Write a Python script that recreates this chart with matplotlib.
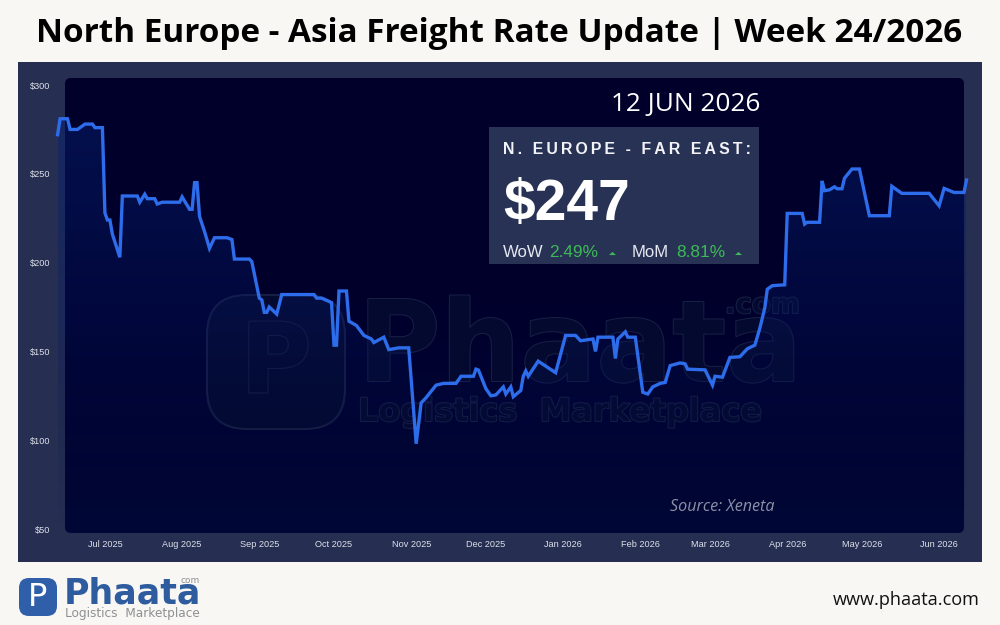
import matplotlib
matplotlib.use('Agg')
import matplotlib.pyplot as plt
import matplotlib.patheffects as pe
from matplotlib.colors import LinearSegmentedColormap
from matplotlib.patches import FancyBboxPatch, Rectangle
import numpy as np
import pandas as pd

start_date = '2025-06-12'
end_date = '2026-06-12'

# days since start_date
day_offsets = [0, 1, 4, 5, 8, 11, 14, 15, 18, 19, 20, 21, 22, 25, 26, 32, 33, 35, 36, 39,
               40, 42, 49, 50, 53, 54, 55, 56, 57, 59, 61, 63, 68, 70, 71, 77, 78, 81, 82, 83,
               84, 85, 88, 90, 103, 104, 106, 110, 111, 112, 113, 116, 117, 120, 123, 126, 127, 131, 133, 137,
               141, 144, 146, 148, 152, 155, 160, 162, 167, 168, 169, 172, 174, 176, 179, 180, 182, 183, 186, 187,
               188, 189, 193, 200, 204, 208, 210, 215, 216, 217, 223, 224, 225, 228, 229, 232, 235, 237, 239, 242,
               244, 246, 250, 252, 253, 260, 263, 264, 267, 270, 274, 277, 280, 282, 284, 285, 287, 292, 293, 299,
               300, 301, 306, 307, 308, 310, 312, 313, 315, 316, 319, 322, 326, 334, 335, 339, 350, 354, 356, 360,
               364, 365]
rates = [272, 281, 281, 275, 275, 278, 278, 276, 276, 228, 224, 224, 216, 203, 237.5, 237.5, 234, 238.5, 236, 236,
         233, 234, 234, 237, 230, 230, 245, 245, 226, 217.5, 208, 214, 214, 213, 202, 202, 200.5, 180, 179, 172,
         172, 175, 171, 182, 182, 180, 180, 177.5, 153.5, 153.5, 184, 184, 167, 164.6, 159, 157, 155, 158, 151, 152,
         152, 98, 121, 124, 131, 132, 132, 136, 136, 140, 139.5, 129, 125, 125.5, 130, 126, 130, 124.5, 128, 136,
         139, 136, 144.5, 138, 159, 159, 156, 157, 150, 158, 158, 146, 157, 161, 158, 158, 127, 126, 130, 132,
         132.5, 142, 143.5, 143, 140, 139.6, 131, 136, 135.5, 146.6, 147, 151.5, 153.5, 163, 174.5, 185, 187, 187.5, 227.7, 227.7,
         221.7, 222.7, 222.7, 246, 240.5, 241, 242.7, 241.6, 241.6, 247.5, 252.7, 252.7, 226.4, 226.4, 243, 239, 239, 232, 241.8, 239.5,
         239.5, 246.5]

y_ticks = [50, 100, 150, 200, 250, 300]
x_tick_dates = ['2025-07-01', '2025-08-01', '2025-09-01', '2025-10-01', '2025-11-01', '2025-12-01',
                '2026-01-01', '2026-02-01', '2026-03-01', '2026-04-01', '2026-05-01', '2026-06-01']
x_tick_labels = ['Jul 2025', 'Aug 2025', 'Sep 2025', 'Oct 2025', 'Nov 2025', 'Dec 2025',
                 'Jan 2026', 'Feb 2026', 'Mar 2026', 'Apr 2026', 'May 2026', 'Jun 2026']

title = 'North Europe - Asia Freight Rate Update | Week 24/2026'
spaced_head = '\u2009'.join('N. EUROPE - FAR EAST:')

W, H = 1000, 625
page = '#f8f7f3'
navy = '#262f52'
white = '#ffffff'
green = '#3dba57'
mark = '#171f45'
mark_fill = '#04092f'

fig = plt.figure(figsize=(10, 6.25), dpi=100, facecolor=page)

# background layer, in pixel coordinates
bg = fig.add_axes([0, 0, 1, 1], zorder=0)
bg.axis('off')
bg.add_patch(Rectangle((18, 62), 964, 500, fc=navy, ec='none', zorder=1))
panel = FancyBboxPatch((71, 84), 887, 443, boxstyle='round,pad=6,rounding_size=6', fc='none', ec='none')
bg.add_patch(panel)
panel_cmap = LinearSegmentedColormap.from_list('panel', ['#00002a', '#00002c', '#000736'])
grad = bg.imshow(np.linspace(0, 1, 256).reshape(-1, 1), cmap=panel_cmap, extent=(65, 964, 533, 78), aspect='auto', zorder=2)
grad.set_clip_path(panel)

# watermark sits under the line
outline = [pe.withStroke(linewidth=1.5, foreground=mark)]
bg.add_patch(FancyBboxPatch((240, 328), 72, 68, boxstyle='round,pad=33,rounding_size=40', fc=mark_fill, ec=mark, lw=1.5, zorder=3))
bg.text(276, 366, 'P', color=mark_fill, fontsize=70, fontweight='bold', family='DejaVu Sans', ha='center', va='center', path_effects=outline, zorder=4)
bg.text(358, 381, 'Phaata', color=mark_fill, fontsize=81, fontweight='bold', family='DejaVu Sans', ha='left', va='baseline', path_effects=outline, zorder=4)
bg.text(800, 313, '.com', color=mark_fill, fontsize=20, fontweight='bold', family='DejaVu Sans', ha='right', va='baseline', path_effects=outline, zorder=4)
bg.text(358, 421, 'Logistics  Marketplace', color=mark_fill, fontsize=23, fontweight='bold', family='DejaVu Sans', ha='left', va='baseline', path_effects=outline, zorder=4)
bg.set_xlim(0, W)
bg.set_ylim(H, 0)

# chart
ax = fig.add_axes([57.6 / W, (H - 529) / H, 908.9 / W, 444 / H], zorder=1)
ax.patch.set_alpha(0)
dates = pd.Timestamp(start_date) + pd.to_timedelta(day_offsets, unit='D')
xnum = matplotlib.dates.date2num(dates)
x0, x1 = matplotlib.dates.date2num([pd.Timestamp(start_date), pd.Timestamp(end_date)])

area = ax.fill_between(xnum, rates, 50, color='none', lw=0)
fill_cmap = LinearSegmentedColormap.from_list('fill', [(0.03, 0.14, 0.46, 0.50), (0.02, 0.10, 0.40, 0.30), (0.0, 0.03, 0.22, 0.0)])
fill_img = ax.imshow(np.linspace(0, 1, 256).reshape(-1, 1), cmap=fill_cmap, extent=(x0, x1, 50, 290), aspect='auto', origin='upper', zorder=2)
fill_img.set_clip_path(area.get_paths()[0], transform=ax.transData)

ax.plot(xnum, rates, color='#2d6cea', lw=2.4, solid_joinstyle='miter', zorder=3, clip_on=False)
ax.set_xlim(x0, x1)
ax.set_ylim(50, 300)
ax.set_yticks(y_ticks)
ax.set_yticklabels(['$' + str(v) for v in y_ticks])
ax.set_xticks(matplotlib.dates.date2num(pd.to_datetime(x_tick_dates)))
ax.set_xticklabels(x_tick_labels)
ax.tick_params(axis='both', length=0, labelcolor='#dde0ea', labelsize=6.6)
ax.tick_params(axis='y', pad=5.5)
ax.tick_params(axis='x', pad=8)
for label in ax.get_xticklabels() + ax.get_yticklabels():
    label.set_family('Liberation Sans')
for side in ax.spines.values():
    side.set_visible(False)

# overlay in pixel coordinates
top = fig.add_axes([0, 0, 1, 1], zorder=2)
top.axis('off')
top.patch.set_alpha(0)
top.set_xlim(0, W)
top.set_ylim(H, 0)

top.text(499, 33, title, color='#000000', fontsize=23.95, fontweight='bold', family='Open Sans', ha='center', va='center')
top.text(760, 105, '12 JUN 2026', color=white, fontsize=18.9, family='Open Sans', ha='right', va='center')

top.add_patch(Rectangle((489, 127), 270, 137, fc='#283254', ec='none'))
top.text(503, 150, spaced_head, color='#f2f3f7', fontsize=11.4, fontweight='bold', family=['Liberation Sans', 'DejaVu Sans'], ha='left', va='center')
top.text(503, 220, '$247', color=white, fontsize=41, fontweight='bold', family='Liberation Sans', ha='left', va='baseline')
top.text(503, 257, 'WoW', color='#e6e8ef', fontsize=12, family='Liberation Sans', ha='left', va='baseline')
top.text(549, 257, '2.49%', color=green, fontsize=12.4, family='Liberation Sans', ha='left', va='baseline')
top.text(632, 257, 'MoM', color='#e6e8ef', fontsize=12, family='Liberation Sans', ha='left', va='baseline')
top.text(676, 257, '8.81%', color=green, fontsize=12.4, family='Liberation Sans', ha='left', va='baseline')
flat_triangle = [(-1, -0.45), (1, -0.45), (0, 0.45)]
top.plot([612, 738], [252.5, 252.5], ls='none', marker=flat_triangle, ms=5, color=green, mew=0)

top.text(722, 507, 'Source: Xeneta', color='#8c90a8', fontsize=11.6, style='italic', family='Open Sans', ha='center', va='center')

# footer logo
top.add_patch(FancyBboxPatch((27, 586), 22, 22, boxstyle='round,pad=8,rounding_size=10', fc='#2e5fa8', ec='none'))
top.text(38, 597, 'P', color=white, fontsize=23, family='DejaVu Sans', ha='center', va='center')
top.text(64, 604, 'Phaata', color='#2e5c9e', fontsize=25, fontweight='bold', family='DejaVu Sans', ha='left', va='baseline')
top.text(200, 583, 'com', color='#8d9094', fontsize=6.5, family='DejaVu Sans', ha='right', va='baseline')
top.text(65, 617, 'Logistics  Marketplace', color='#8d9094', fontsize=8.7, family='DejaVu Sans', ha='left', va='baseline')
top.text(980, 600, 'www.phaata.com', color='#111111', fontsize=13.1, family='Open Sans', ha='right', va='center')

fig.savefig('out.png', dpi=100, facecolor=page)
